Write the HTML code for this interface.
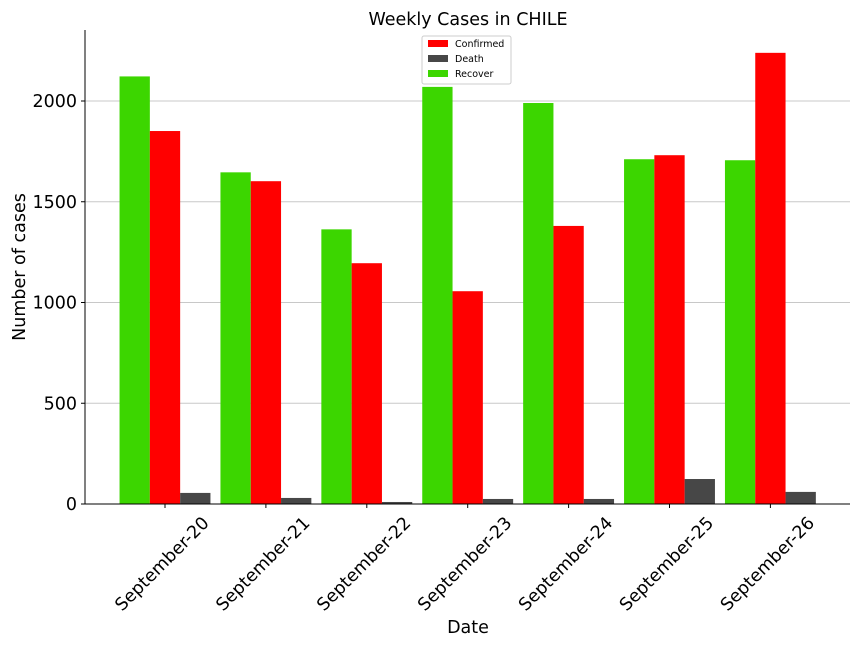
<!DOCTYPE html>
<html><head><meta charset="utf-8"><style>
body{margin:0;background:#fff;}
svg{display:block;font-family:"DejaVu Sans","Liberation Sans",sans-serif;}
</style></head><body>
<svg id="chart" width="864" height="648">
<text x="468" y="25" text-anchor="middle" font-size="17.5">Weekly Cases in CHILE</text>
<g id="grid"></g><g id="bars"></g><g id="axes"></g>
<text x="468" y="633" text-anchor="middle" font-size="17.5">Date</text>
<text transform="translate(25,267) rotate(-90)" text-anchor="middle" font-size="17.5">Number of cases</text>
<g>
<rect x="422" y="36" width="89" height="48" fill="#fff" stroke="#ccc" rx="2"/>
<rect x="428" y="40" width="20" height="7" fill="#ff0000"/><text x="455" y="47" font-size="9.5">Confirmed</text>
<rect x="428" y="55" width="20" height="7" fill="#474747"/><text x="455" y="62" font-size="9.5">Death</text>
<rect x="428" y="70" width="20" height="7" fill="#3cd600"/><text x="455" y="77" font-size="9.5">Recover</text>
</g>
</svg>
<script>
const categories=["September-20","September-21","September-22","September-23","September-24","September-25","September-26"];
const recovered=[2122,1646,1363,2070,1990,1711,1706];
const confirmed=[1851,1602,1195,1056,1380,1731,2239];
const deaths=[55,30,10,25,25,124,60];
const yTicks=[0,500,1000,1500,2000];
const NS="http://www.w3.org/2000/svg";
const x0=85,x1=850,yb=504,yt=30,k=0.2015;
const y=v=>yb-v*k;
const xc=i=>165+i*100.9;
const bw=30.3;
const grid=document.getElementById('grid'),bars=document.getElementById('bars'),axes=document.getElementById('axes');
function mk(tag,attrs,parent){const e=document.createElementNS(NS,tag);for(const a in attrs)e.setAttribute(a,attrs[a]);parent.appendChild(e);return e;}
yTicks.forEach(t=>{
 const g=mk('line',{x1:x0,x2:x1,y1:y(t),y2:y(t),stroke:'#c8c8c8','stroke-width':1},grid);
 
 
 mk('line',{x1:x0-4,x2:x0,y1:y(t),y2:y(t),stroke:'#000'},axes);
 const tx=mk('text',{x:x0-8,y:y(t)+6,'text-anchor':'end','font-size':17.5},axes);tx.textContent=t;
 
 
});
const series=[[recovered,'#3cd600',-1,'bar-recover'],[confirmed,'#ff0000',0,'bar-confirmed'],[deaths,'#474747',1,'bar-death']];
categories.forEach((c,i)=>{
 series.forEach(([arr,col,off,name])=>{
  const r=mk('rect',{x:xc(i)+off*bw-bw/2,y:y(arr[i]),width:bw,height:arr[i]*k,fill:col},bars);
  
  
 });
 mk('line',{x1:xc(i),x2:xc(i),y1:yb,y2:yb+4,stroke:'#000'},axes);
 const t=mk('text',{'text-anchor':'end','font-size':17.5,transform:`translate(${xc(i)+45},${yb+20}) rotate(-45)`},axes);
 t.textContent=c;
 
 
});
mk('line',{x1:x0,x2:x0,y1:yt,y2:yb,stroke:'#000'},axes);
mk('line',{x1:x0,x2:x1,y1:yb,y2:yb,stroke:'#000'},axes);
</script>
</body></html>
